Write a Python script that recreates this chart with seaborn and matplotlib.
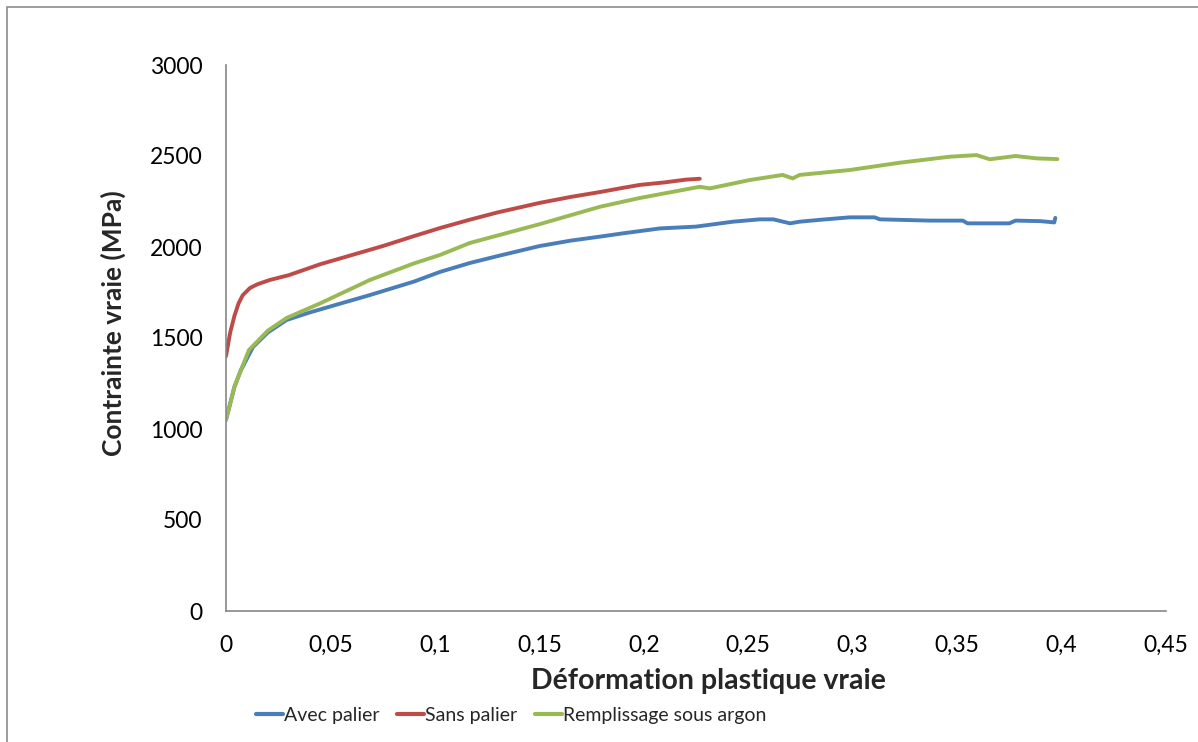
import matplotlib
matplotlib.use("Agg")
import matplotlib.pyplot as plt
from matplotlib.patches import Rectangle
import numpy as np
import pandas as pd
import seaborn as sns

# True plastic strain / true stress (MPa) for each test
avec_x = [0, 0.002, 0.004, 0.007, 0.0129, 0.02, 0.029, 0.04, 0.055, 0.0689, 0.08, 0.09,
          0.1024, 0.1167, 0.13, 0.15, 0.165, 0.179, 0.19, 0.2077, 0.225, 0.2426, 0.2555,
          0.262, 0.27, 0.2746, 0.285, 0.2986, 0.3105, 0.313, 0.337, 0.3527, 0.355, 0.375,
          0.378, 0.39, 0.3965, 0.397]
avec_y = [1050, 1140, 1230, 1320, 1450, 1530, 1599, 1640, 1690, 1736, 1775, 1810,
          1863, 1912, 1950, 2005, 2035, 2057, 2075, 2102, 2112, 2139, 2152,
          2152, 2130, 2139, 2150, 2163, 2163, 2152, 2145, 2145, 2130, 2130,
          2145, 2142, 2135, 2160]

sans_x = [0, 0.002, 0.004, 0.006, 0.008, 0.0115, 0.015, 0.021, 0.03, 0.045, 0.06, 0.075,
          0.09, 0.1024, 0.1167, 0.13, 0.15, 0.165, 0.179, 0.19, 0.198, 0.21, 0.22, 0.2268]
sans_y = [1400, 1530, 1620, 1690, 1735, 1775, 1795, 1819, 1845, 1905, 1955, 2005,
          2060, 2104, 2150, 2190, 2242, 2275, 2302, 2325, 2341, 2355, 2370, 2375]

argon_x = [0, 0.002, 0.004, 0.007, 0.011, 0.02, 0.029, 0.045, 0.0689, 0.09, 0.1024, 0.1167,
           0.15, 0.179, 0.198, 0.2268, 0.2316, 0.2507, 0.2665, 0.2713, 0.2746, 0.2986,
           0.3225, 0.3464, 0.3593, 0.3656, 0.378, 0.388, 0.398]
argon_y = [1050, 1140, 1230, 1320, 1434, 1540, 1610, 1690, 1819, 1910, 1956, 2022,
           2125, 2221, 2269, 2331, 2322, 2368, 2396, 2377, 2396, 2423,
           2463, 2496, 2505, 2482, 2500, 2487, 2483]

series_names = ["Avec palier", "Sans palier", "Remplissage sous argon"]
series_colors = ["#4A7EBB", "#BE4B48", "#98B954"]

x_ticks = [0, 0.05, 0.1, 0.15, 0.2, 0.25, 0.3, 0.35, 0.4, 0.45]
x_tick_labels = ["0", "0,05", "0,1", "0,15", "0,2", "0,25", "0,3", "0,35", "0,4", "0,45"]
y_ticks = [0, 500, 1000, 1500, 2000, 2500, 3000]

frames = []
for name, xs, ys in zip(series_names, [avec_x, sans_x, argon_x], [avec_y, sans_y, argon_y]):
    frames.append(pd.DataFrame({"strain": xs, "stress": ys, "serie": name}))
df = pd.concat(frames, ignore_index=True)

sns.set_style("white")
plt.rcParams["font.family"] = ["Lato", "DejaVu Sans"]

fig = plt.figure(figsize=(11.98, 7.42), dpi=100)
ax = fig.add_axes([226 / 1198, 1 - 611 / 742, (1166 - 226) / 1198, 546 / 742])

sns.lineplot(data=df, x="strain", y="stress", hue="serie", hue_order=series_names,
             palette=series_colors, sort=False, estimator=None, linewidth=2.8, ax=ax)

axis_grey = "#868686"
ax.set_xlim(0, 0.45)
ax.set_ylim(0, 3000)
ax.set_xticks(x_ticks)
ax.set_xticklabels(x_tick_labels)
ax.set_yticks(y_ticks)
ax.set_yticklabels([str(v) for v in y_ticks])
ax.tick_params(axis="both", direction="out", length=6, width=1.2, color=axis_grey,
               labelsize=16.5, labelcolor="black")
ax.tick_params(axis="x", pad=11)
ax.tick_params(axis="y", pad=11)
for side in ["top", "right"]:
    ax.spines[side].set_visible(False)
for side in ["left", "bottom"]:
    ax.spines[side].set_color(axis_grey)
    ax.spines[side].set_linewidth(1.2)

ax.set_xlabel("Déformation plastique vraie", fontsize=20.5, fontweight="bold")
ax.set_ylabel("Contrainte vraie (MPa)", fontsize=19, fontweight="bold")
ax.xaxis.set_label_coords((708 - 226) / 940, (611 - 668) / 546)
ax.yaxis.set_label_coords((126 - 226) / 940, (611 - 323) / 546)

handles, labels = ax.get_legend_handles_labels()
ax.get_legend().remove()
for h in handles:
    h.set_linewidth(3.0)
fig.legend(handles, labels, loc="center", bbox_to_anchor=(511 / 1198, 1 - 715 / 742),
           ncol=3, frameon=False, fontsize=14, handlelength=1.4, handletextpad=0.05,
           columnspacing=0.9)

fig.patches.append(Rectangle((7 / 1198, -0.02), 1.1, 1 - 7 / 742 + 0.02,
                             transform=fig.transFigure, fill=False,
                             edgecolor="#8c8c8c", linewidth=1.2))

fig.savefig("out.png", dpi=100)
